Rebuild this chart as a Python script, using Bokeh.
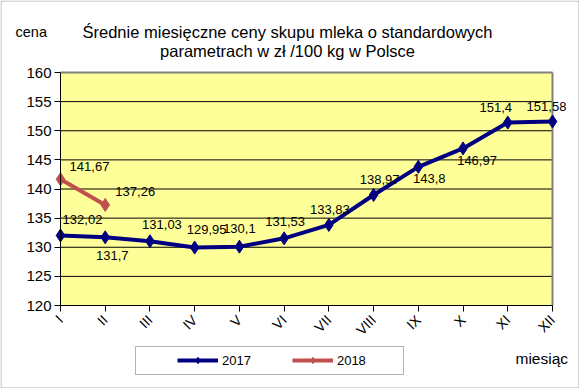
import math
from bokeh.plotting import figure
from bokeh.models import (Range1d, FixedTicker, Label, Legend, LegendItem, BoxAnnotation,
                          ColumnDataSource, LinearAxis)
from bokeh.core.properties import value
from bokeh.embed import file_html
from bokeh.resources import INLINE

# ---- data ----
months = ["I", "II", "III", "IV", "V", "VI", "VII", "VIII", "IX", "X", "XI", "XII"]
prices_2017 = [132.02, 131.7, 131.03, 129.95, 130.1, 131.53, 133.83, 138.97, 143.8, 146.97, 151.4, 151.58]
prices_2018 = [141.67, 137.26]
y_ticks = [120, 125, 130, 135, 140, 145, 150, 155, 160]
title_lines = ["Średnie miesięczne ceny skupu mleka o standardowych",
               "parametrach w zł /100 kg w Polsce"]

# ---- label placement (styling, screen px) ----
off_2017_x = [22, 7, 12, 12, 0, 1, 1, 6, 11, 14, -12, -6]
off_2017_y = [-16, 18, -17, -18, -18, -17, -15, -15, 12, 12, -15, -15]
off_2018_x = [29, 30]
off_2018_y = [-13, -13]

FONT = "Liberation Sans"
C2017 = "#000080"
C2018 = "#C0504D"
W, H = 579, 388
# plot-area placement in canvas px
PL, PR, PT, PB = 60, 552, 72, 305


def fmt(v):
    return ("%g" % v).replace(".", ",")


nx = len(months) - 1
ux = (PR - PL) / nx
uy = (PB - PT) / (y_ticks[-1] - y_ticks[0])
x_range = Range1d(-PL / ux, nx + (W - PR) / ux)
y_range = Range1d(y_ticks[0] - (H - PB) / uy, y_ticks[-1] + PT / uy)


def px_x(sx):
    return (sx - PL) / ux


def px_y(sy):
    return y_ticks[-1] + (PT - sy) / uy


x17 = list(range(len(prices_2017)))
x18 = list(range(len(prices_2018)))
src17 = ColumnDataSource(dict(x=x17, y=prices_2017, t=[fmt(v) for v in prices_2017],
                              dx=off_2017_x, dy=off_2017_y))
src18 = ColumnDataSource(dict(x=x18, y=prices_2018, t=[fmt(v) for v in prices_2018],
                              dx=off_2018_x, dy=off_2018_y))

p = figure(width=W, height=H, output_backend="svg", toolbar_location=None,
           x_range=x_range, y_range=y_range,
           x_axis_location=None, y_axis_location=None,
           min_border=0, min_border_left=0, min_border_right=0,
           min_border_top=0, min_border_bottom=0)
p.background_fill_color = "white"
p.border_fill_color = "white"
p.outline_line_color = None
p.grid.visible = False

# plot area
p.add_layout(BoxAnnotation(left=0, right=nx, bottom=y_ticks[0], top=y_ticks[-1],
                           fill_color="#FFFF99", fill_alpha=1, line_color=None,
                           level="underlay"))
# horizontal grid lines
p.segment(x0=[0] * (len(y_ticks) - 2), x1=[nx] * (len(y_ticks) - 2),
          y0=y_ticks[1:-1], y1=y_ticks[1:-1], line_color="black", line_width=1)
# grey top / right frame of plot area
p.segment(x0=[0, nx], x1=[nx, nx], y0=[y_ticks[-1], y_ticks[0]], y1=[y_ticks[-1], y_ticks[-1]],
          line_color="#808080", line_width=2)

# axes
yax = LinearAxis(fixed_location=0, bounds=(y_ticks[0], y_ticks[-1]),
                 ticker=FixedTicker(ticks=y_ticks))
xax = LinearAxis(fixed_location=y_ticks[0], bounds=(0, nx),
                 ticker=FixedTicker(ticks=x17))
xax.major_label_overrides = {i: m for i, m in enumerate(months)}
xax.major_label_orientation = math.pi / 4
for ax in (xax, yax):
    ax.axis_line_color = "black"
    ax.axis_line_width = 1
    ax.major_tick_line_color = "black"
    ax.major_tick_in = 0
    ax.major_tick_out = 6
    ax.minor_tick_line_color = None
    ax.major_label_text_font = FONT
    ax.major_label_text_color = "black"
yax.major_label_text_font_size = "15px"
xax.major_label_text_font_size = "14px"
yax.major_label_standoff = 3
xax.major_label_standoff = 6
p.add_layout(yax, "left")
p.add_layout(xax, "below")

# series
l17 = p.line("x", "y", source=src17, line_width=4, line_color=C2017)
s17 = p.scatter("x", "y", source=src17, marker="diamond", size=13, fill_color=C2017, line_color=C2017)
l18 = p.line("x", "y", source=src18, line_width=4, line_color=C2018)
s18 = p.scatter("x", "y", source=src18, marker="diamond", size=13, fill_color=C2018, line_color=C2018)

for src in (src17, src18):
    p.text("x", "y", text="t", source=src, x_offset="dx", y_offset="dy",
           text_align="center", text_baseline="middle",
           text_font=value(FONT), text_font_size="13px", text_color="black")

# titles
p.add_layout(Label(x=px_x(15), y=px_y(31), text="cena", text_font=FONT, text_font_size="14.5px",
                   text_align="left", text_baseline="middle", text_color="black"))
p.add_layout(Label(x=px_x(287), y=px_y(31), text=title_lines[0], text_font=FONT,
                   text_font_size="16.5px", text_align="center", text_baseline="middle",
                   text_color="black"))
p.add_layout(Label(x=px_x(287), y=px_y(50), text=title_lines[1], text_font=FONT,
                   text_font_size="16.5px", text_align="center", text_baseline="middle",
                   text_color="black"))
p.add_layout(Label(x=px_x(515), y=px_y(358), text="miesiąc", text_font=FONT,
                   text_font_size="15.5px", text_align="left", text_baseline="middle",
                   text_color="black"))

# legend
legend = Legend(items=[LegendItem(label="2017", renderers=[l17, s17]),
                       LegendItem(label="2018", renderers=[l18, s18])],
                orientation="horizontal", location=(177, 20), padding=0, margin=0,
                spacing=41, glyph_width=41, glyph_height=16, label_standoff=4,
                border_line_alpha=0, background_fill_alpha=0,
                label_text_font=FONT, label_text_font_size="13px", label_text_color="black")
p.add_layout(legend)

p.add_layout(BoxAnnotation(left=135, right=403, top=346, bottom=374,
                           left_units="canvas", right_units="canvas",
                           top_units="canvas", bottom_units="canvas",
                           fill_alpha=0, line_color="black", line_width=1))
p.add_layout(BoxAnnotation(left=0.5, right=W - 0.5, top=0.5, bottom=H - 0.5,
                           left_units="canvas", right_units="canvas",
                           top_units="canvas", bottom_units="canvas",
                           fill_alpha=0, line_color="black", line_width=1))

open("out.html", "w").write(file_html(p, INLINE))
